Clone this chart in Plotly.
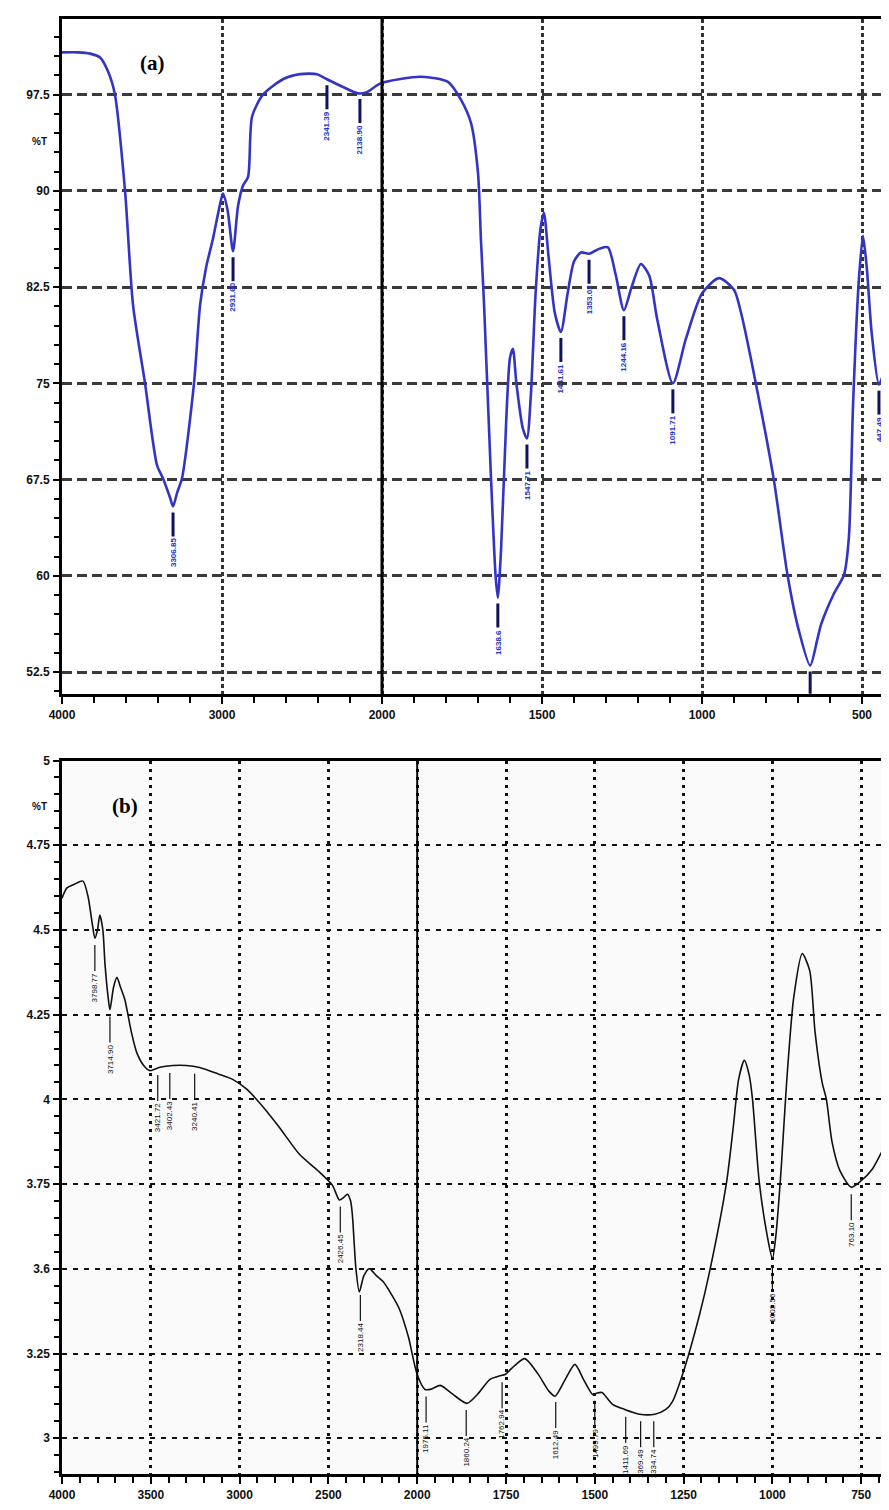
import numpy as np
import plotly.graph_objects as go

# ---------------- data: panel (a) ----------------
a_wavenumber = [4000, 3900, 3825, 3762, 3712, 3669, 3606, 3556, 3481, 3406, 3369, 3325, 3306, 3280, 3250,
                3175, 3137, 3100, 3056, 3020, 2994, 2965, 2931, 2900, 2869, 2837, 2812, 2744, 2619, 2512,
                2406, 2344, 2244, 2150, 2094, 2006, 1878, 1794, 1753, 1722, 1700, 1691, 1681, 1660, 1645,
                1638, 1628, 1612, 1600, 1591, 1580, 1560, 1547, 1535, 1520, 1505, 1494, 1480, 1460, 1441,
                1420, 1400, 1378, 1353, 1320, 1294, 1270, 1244, 1220, 1191, 1165, 1140, 1091, 1050, 1000,
                947, 900, 878, 831, 775, 733, 700, 662, 640, 628, 588, 556, 541, 528, 510, 497, 485, 470,
                447, 430, 412, 400, 385]
a_transmittance = [100.8, 100.8, 100.7, 100.4, 99.3, 97.5, 90.0, 81.1, 75.0, 68.6, 67.6, 66.1, 65.4, 66.5, 67.6,
                   75.0, 81.1, 84.0, 86.3, 88.5, 89.8, 88.5, 85.3, 88.8, 90.4, 91.1, 95.8, 97.5, 98.7, 99.1,
                   99.1, 98.7, 98.1, 97.6, 97.7, 98.4, 98.9, 98.5, 97.1, 95.3, 91.4, 86.3, 81.1, 68.0, 60.0,
                   58.3, 62.0, 72.0, 77.0, 77.7, 75.0, 71.5, 70.7, 74.0, 82.0, 87.0, 88.3, 85.0, 80.5, 79.0,
                   82.0, 84.5, 85.2, 85.1, 85.5, 85.6, 83.5, 80.7, 82.5, 84.3, 83.4, 80.0, 75.0, 78.5, 82.0,
                   83.2, 82.3, 80.5, 74.9, 67.4, 60.1, 56.0, 53.0, 55.0, 56.2, 58.6, 60.1, 63.0, 73.3, 83.0,
                   86.5, 84.0, 79.0, 74.9, 76.0, 77.2, 78.0, 79.0]
a_tick_values = [4000, 3000, 2000, 1500, 1000, 500]
a_tick_labels = ["4000", "3000", "2000", "1500", "1000", "500"]
a_y_ticks = [52.5, 60, 67.5, 75, 82.5, 90, 97.5]
a_y_labels = ["52.5", "60", "67.5", "75", "82.5", "90", "97.5"]
a_peak_positions = [3306, 2931, 2344, 2138, 1638, 1547, 1441, 1353, 1244, 1091, 662, 447]
a_peak_labels = ["3306.85", "2931.60", "2341.39", "2138.90", "1638.6", "1547.71", "1441.61",
                 "1353.02", "1244.16", "1091.71", "", "447.49"]

# ---------------- data: panel (b) ----------------
b_wavenumber = [4000, 3972, 3930, 3882, 3854, 3830, 3815, 3800, 3787, 3770, 3758, 3740, 3730, 3710, 3691,
                3670, 3646, 3610, 3579, 3540, 3506, 3449, 3376, 3300, 3225, 3120, 3039, 2960, 2888, 2780,
                2663, 2560, 2478, 2438, 2415, 2393, 2375, 2365, 2345, 2326, 2300, 2270, 2230, 2191, 2140,
                2101, 2050, 2000, 1978, 1960, 1935, 1900, 1860, 1830, 1795, 1765, 1753, 1725, 1697, 1660,
                1630, 1612, 1585, 1556, 1530, 1506, 1495, 1480, 1450, 1416, 1374, 1331, 1300, 1281, 1253,
                1205, 1177, 1129, 1110, 1095, 1079, 1065, 1056, 1037, 1015, 1000, 990, 975, 960, 940, 916,
                895, 880, 860, 848, 832, 810, 778, 750, 719, 674, 650]
b_transmittance = [4.594, 4.624, 4.635, 4.644, 4.600, 4.520, 4.476, 4.500, 4.544, 4.500, 4.400, 4.300, 4.265,
                   4.330, 4.360, 4.330, 4.294, 4.200, 4.138, 4.100, 4.085, 4.095, 4.100, 4.100, 4.094, 4.075,
                   4.059, 4.030, 3.990, 3.920, 3.838, 3.790, 3.747, 3.703, 3.710, 3.720, 3.700, 3.659, 3.500,
                   3.432, 3.480, 3.500, 3.480, 3.462, 3.420, 3.382, 3.300, 3.188, 3.144, 3.145, 3.156, 3.130,
                   3.103, 3.130, 3.174, 3.185, 3.188, 3.215, 3.235, 3.190, 3.140, 3.124, 3.170, 3.218, 3.170,
                   3.129, 3.133, 3.135, 3.100, 3.085, 3.071, 3.071, 3.085, 3.109, 3.188, 3.365, 3.491, 3.756,
                   3.920, 4.060, 4.115, 4.070, 4.000, 3.756, 3.600, 3.530, 3.600, 3.800, 4.050, 4.300, 4.430,
                   4.380, 4.200, 4.050, 4.000, 3.874, 3.790, 3.741, 3.760, 3.794, 3.882, 3.920]
b_tick_values = [4000, 3500, 3000, 2500, 2000, 1750, 1500, 1250, 1000, 750]
b_tick_labels = ["4000", "3500", "3000", "2500", "2000", "1750", "1500", "1250", "1000", "750"]
b_y_ticks = [3, 3.25, 3.5, 3.75, 4, 4.25, 4.5, 4.75, 5]
b_y_labels = ["3", "3.25", "3.6", "3.75", "4", "4.25", "4.5", "4.75", "5"]
b_peak_positions = [3815, 3730, 3461, 3393, 3253, 2433, 2320, 1975, 1862, 1761, 1610, 1500,
                    1413, 1371, 1334, 1000, 778]
b_peak_labels = ["3798.77", "3714.90", "3421.72", "3402.43", "3240.41", "2426.45", "2318.44", "1975.11",
                 "1860.24", "1762.94", "1612.49", "1499.79", "1411.69", "1369.49", "1334.74", "1002.56",
                 "763.10"]


# split-scale wavenumber axes (scale doubles below 2000 cm-1)
def pos_a(w):
    w = np.asarray(w, dtype=float)
    return np.where(w >= 2000, (4000 - w) / 1000, 2 + (2000 - w) / 500)


def pos_b(w):
    w = np.asarray(w, dtype=float)
    return np.where(w >= 2000, (4000 - w) / 500, 4 + (2000 - w) / 250)


OFF = 8                      # page body margin
W, H = 889, 1510 - OFF
L = 62 - OFF
RIGHT = OFF + W              # page column of the figure's right edge


def py(y):                   # page pixel row -> paper fraction
    return 1 - (y - OFF) / H


def px(x):                   # page pixel column -> paper fraction (plot x-domain)
    return (x - OFF - L) / (W - L)


fig = go.Figure()

fig.add_shape(type="rect", xref="x2 domain", yref="y2 domain", x0=0, x1=1, y0=0, y1=1,
              fillcolor="#fafafa", line_width=0, layer="below")

fig.add_trace(go.Scatter(x=pos_a(a_wavenumber), y=a_transmittance, mode="lines",
                         line=dict(color="#3434c4", width=2.6, shape="spline", smoothing=0.7),
                         xaxis="x", yaxis="y", hoverinfo="skip", showlegend=False))
fig.add_trace(go.Scatter(x=pos_b(b_wavenumber), y=b_transmittance, mode="lines",
                         line=dict(color="#111111", width=1.6, shape="spline", smoothing=0.7),
                         xaxis="x2", yaxis="y2", hoverinfo="skip", showlegend=False))

bold = dict(family="Liberation Sans, Arial", size=12, color="#111111", weight="bold")

common_x = dict(showgrid=True, showline=True, linecolor="black", mirror=True,
                ticks="outside", tickcolor="black", tickwidth=2, ticklen=7, zeroline=False,
                tickmode="array", tickfont=bold, ticklabelstandoff=1)
common_y = dict(showgrid=True, showline=True, linecolor="black", mirror=False,
                ticks="outside", tickcolor="black", tickwidth=2, ticklen=6, zeroline=False,
                tickmode="array", tickfont=bold, ticklabelstandoff=1)

fig.update_layout(
    width=W, height=H,
    margin=dict(l=L, r=0, t=0, b=0),
    paper_bgcolor="white", plot_bgcolor="white",
    showlegend=False,
    xaxis=dict(common_x, domain=[0, 1], anchor="y", range=[0, (RIGHT - 62) / 160],
               tickvals=list(pos_a(a_tick_values)), ticktext=a_tick_labels,
               gridcolor="#333333", griddash="4px,3px", gridwidth=2.5, linewidth=3,
               minor=dict(dtick=0.2, tick0=0, ticks="outside", ticklen=6, tickwidth=2,
                          tickcolor="black", showgrid=False)),
    yaxis=dict(common_y, domain=[py(690), py(12)], anchor="x", range=[50.8, 103.4],
               tickvals=a_y_ticks, ticktext=a_y_labels,
               gridcolor="#3a3a3a", griddash="10px,5px", gridwidth=2.5, linewidth=3,
               minor=dict(tick0=52.5, dtick=1.5, ticks="outside", ticklen=5, tickwidth=2,
                          tickcolor="black", showgrid=False)),
    xaxis2=dict(common_x, domain=[0, 1], anchor="y2", range=[0, (RIGHT - 62) / 88.8],
                tickvals=list(pos_b(b_tick_values)), ticktext=b_tick_labels,
                gridcolor="#111111", griddash="3px,5px", gridwidth=2.5, linewidth=2.5,
                minor=dict(dtick=0.2, tick0=0, ticks="outside", ticklen=6, tickwidth=2,
                           tickcolor="black", showgrid=False)),
    yaxis2=dict(common_y, domain=[py(1474), py(757)], anchor="x2", range=[2.894, 5.0],
                tickvals=b_y_ticks, ticktext=b_y_labels,
                gridcolor="#111111", griddash="5px,6px", gridwidth=2, linewidth=2.5,
                minor=dict(tick0=3, dtick=0.05, ticks="outside", ticklen=5, tickwidth=2,
                           tickcolor="black", showgrid=False)),
)

# solid split line at 2000 cm-1
fig.add_shape(type="line", xref="x", yref="y domain", x0=float(pos_a(2000)), x1=float(pos_a(2000)),
              y0=0, y1=1, line=dict(color="black", width=3))
fig.add_shape(type="line", xref="x2", yref="y2 domain", x0=float(pos_b(2000)), x1=float(pos_b(2000)),
              y0=0, y1=1, line=dict(color="black", width=2))

# peak markers and labels
a_vals = np.interp(a_peak_positions, a_wavenumber[::-1], a_transmittance[::-1])
for w, v, t in zip(a_peak_positions, a_vals, a_peak_labels):
    p = float(pos_a(w))
    fig.add_shape(type="line", xref="x", yref="y", ysizemode="pixel", yanchor=float(v),
                  x0=p, x1=p, y0=-6, y1=-30, line=dict(color="#12125a", width=3))
    if t:
        fig.add_annotation(x=p, y=float(v), xref="x", yref="y", text=t, showarrow=False,
                           textangle=-90, yanchor="top", xanchor="center", yshift=-30,
                           font=dict(family="Liberation Sans, Arial", size=8, color="#2233cc",
                                     weight="bold"))

b_vals = np.interp(b_peak_positions, b_wavenumber[::-1], b_transmittance[::-1])
for w, v, t in zip(b_peak_positions, b_vals, b_peak_labels):
    p = float(pos_b(w))
    fig.add_shape(type="line", xref="x2", yref="y2", ysizemode="pixel", yanchor=float(v),
                  x0=p, x1=p, y0=-7, y1=-33, line=dict(color="#111111", width=1.2))
    fig.add_annotation(x=p, y=float(v), xref="x2", yref="y2", text=t, showarrow=False,
                       textangle=-90, yanchor="top", xanchor="center", yshift=-33,
                       font=dict(family="Liberation Sans, Arial", size=8, color="#111111"))

# %T axis captions and panel letters
cap = dict(family="Liberation Sans, Arial", size=10, color="#111", weight="bold")
fig.add_annotation(xref="paper", yref="paper", x=px(30), y=py(128), text="%T", showarrow=False, font=cap)
fig.add_annotation(xref="paper", yref="paper", x=px(30), y=py(803), text="%T", showarrow=False, font=cap)
letter = dict(family="Liberation Serif, Times New Roman", size=21, color="black", weight="bold")
fig.add_annotation(xref="paper", yref="paper", x=px(138), y=py(42), text="(a)", showarrow=False, font=letter)
fig.add_annotation(xref="paper", yref="paper", x=px(110), y=py(803), text="(b)", showarrow=False, font=letter)

fig.write_html("out.html")
